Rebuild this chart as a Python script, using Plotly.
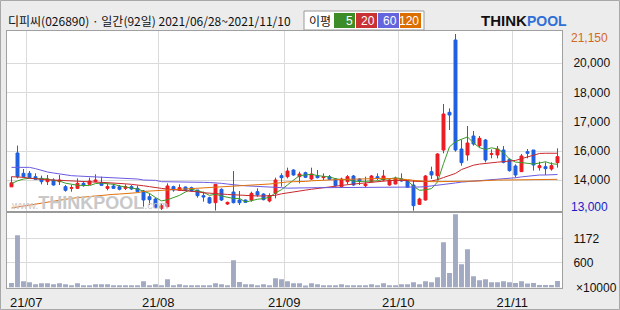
import pandas as pd
import plotly.graph_objects as go

# ---------------- data ----------------
holidays = ["2021-08-16", "2021-09-20", "2021-09-21", "2021-09-22", "2021-10-04", "2021-10-11"]
dates = [d for d in pd.bdate_range("2021-06-28", "2021-11-10") if d.strftime("%Y-%m-%d") not in holidays]

open_ = [14100, 15662, 14724, 14724, 14570, 14493, 14340, 14416, 14340, 14109,
         14032, 14032, 14263, 14217, 14340, 14294, 14032, 14140, 14109, 14032,
         14109, 14032, 13909, 13647, 13540, 13110, 13186, 14109, 13940, 14094,
         14063, 13955, 13694, 13602, 13371, 13986, 13310, 13863, 13494, 13494,
         13494, 13878, 13770, 13448, 13801, 14616, 14570, 14878, 14570, 14754,
         14463, 14616, 14524, 14570, 14463, 14109, 14340, 14601, 14463, 14155,
         14340, 14570, 14416, 14186, 14232, 14463, 14370, 14186, 13294, 13494,
         14801, 14616, 15800, 17537, 20873, 15846, 15570, 16446, 16000, 16262,
         15600, 15570, 15800, 15370, 15062, 14801, 15723, 15800, 14986, 15032,
         14924, 15216]
high = [14570, 16000, 14924, 14832, 14724, 14616, 14647, 14493, 14647, 14186,
        14186, 14493, 14370, 14524, 14678, 14570, 14263, 14247, 14186, 14217,
        14186, 14155, 13955, 13801, 13602, 13340, 14263, 14155, 14217, 14109,
        14109, 13955, 13878, 13648, 14217, 14032, 13417, 14831, 13909, 13510,
        13878, 14032, 13801, 13801, 14524, 14724, 14985, 14908, 14801, 14801,
        14985, 14878, 14724, 14647, 14493, 14524, 14647, 14647, 14493, 14570,
        14647, 14724, 14878, 14493, 14570, 14724, 14416, 14416, 13602, 14647,
        15032, 15650, 17922, 17722, 21150, 16262, 16907, 16676, 16446, 16308,
        15831, 15985, 15985, 15416, 15139, 15616, 15846, 15800, 15262, 15231,
        15231, 15877]
low = [14094, 14493, 14524, 14493, 14416, 14217, 14186, 14155, 14186, 13878,
       13878, 14002, 14109, 14186, 14309, 14170, 13940, 14002, 13940, 13955,
       13955, 13848, 13187, 13263, 13110, 13033, 13156, 13878, 13909, 13909,
       13878, 13602, 13417, 13325, 13010, 13448, 13264, 13340, 13263, 13371,
       13417, 13648, 13479, 13387, 13571, 14109, 14493, 14616, 14263, 14524,
       14416, 14493, 14416, 14416, 14109, 14078, 14217, 14155, 14186, 14078,
       14309, 14416, 14370, 14155, 14217, 14340, 14063, 13000, 13263, 13463,
       14463, 14416, 15646, 16722, 15723, 15078, 15308, 16000, 15908, 15231,
       15416, 15416, 15185, 14801, 14524, 14786, 15416, 14847, 14847, 14647,
       14847, 14986]
close = [14285, 14570, 14570, 14524, 14447, 14340, 14463, 14186, 14416, 13940,
         14063, 14263, 14155, 14370, 14416, 14170, 14109, 14032, 13986, 14109,
         14002, 13878, 13494, 13509, 13156, 13233, 14140, 13955, 14063, 13940,
         13909, 13694, 13632, 13356, 14217, 13494, 13387, 13371, 13371, 13387,
         13801, 13725, 13510, 13678, 14416, 14524, 14831, 14647, 14693, 14540,
         14693, 14524, 14570, 14447, 14155, 14463, 14570, 14186, 14370, 14232,
         14601, 14493, 14601, 14416, 14493, 14370, 14078, 13233, 13540, 14601,
         14647, 15616, 17460, 17414, 15800, 15216, 16123, 16077, 16338, 15339,
         15631, 15846, 15231, 14847, 14647, 15523, 15646, 15108, 15078, 14939,
         15078, 15493]
# volume in units of 10,000 shares
volume = [111, 1255, 151, 127, 79, 103, 103, 79, 103, 79,
          55, 103, 55, 55, 79, 79, 79, 55, 55, 55,
          55, 55, 151, 55, 79, 55, 199, 55, 79, 55,
          55, 55, 55, 55, 103, 79, 55, 655, 135, 79,
          79, 55, 79, 55, 223, 199, 151, 103, 103, 47,
          103, 79, 55, 55, 55, 79, 55, 55, 55, 55,
          79, 55, 103, 55, 55, 79, 79, 127, 79, 151,
          127, 247, 1087, 351, 1759, 559, 919, 271, 175, 199,
          127, 127, 151, 127, 111, 151, 95, 111, 63, 63,
          63, 159]
ma5 = [14250, 14380, 14460, 14500, 14478, 14490, 14469, 14392, 14370, 14269,
       14214, 14174, 14167, 14158, 14253, 14275, 14244, 14219, 14143, 14081,
       14048, 14001, 13894, 13798, 13608, 13454, 13506, 13599, 13709, 13866,
       14001, 13912, 13848, 13706, 13762, 13679, 13617, 13565, 13568, 13402,
       13463, 13531, 13559, 13620, 13826, 13971, 14192, 14419, 14622, 14647,
       14681, 14619, 14604, 14555, 14478, 14432, 14441, 14364, 14349, 14364,
       14392, 14376, 14459, 14469, 14521, 14475, 14392, 14118, 13943, 13964,
       14020, 14327, 15173, 15948, 16187, 16301, 16403, 16126, 15911, 15819,
       15902, 15846, 15677, 15379, 15240, 15219, 15179, 15154, 15200, 15259,
       15170, 15139]
ma20 = [14570, 14570, 14540, 14500, 14470, 14440, 14420, 14416, 14400, 14370,
        14350, 14340, 14340, 14330, 14320, 14310, 14300, 14280, 14263, 14240,
        14217, 14200, 14150, 14110, 14060, 14030, 14000, 13980, 13960, 13940,
        13910, 13870, 13830, 13800, 13790, 13770, 13750, 13730, 13720, 13700,
        13690, 13680, 13680, 13690, 13710, 13780, 13830, 13880, 13920, 13950,
        13990, 14030, 14060, 14090, 14120, 14160, 14200, 14230, 14260, 14290,
        14320, 14340, 14370, 14390, 14400, 14400, 14390, 14360, 14340, 14340,
        14370, 14430, 14530, 14620, 14720, 14900, 15000, 15100, 15150, 15190,
        15220, 15240, 15262, 15290, 15320, 15400, 15490, 15580, 15640, 15650,
        15650, 15650]
ma60 = [15000, 15000, 15031, 15000, 14939, 14847, 14785, 14739, 14693, 14647,
        14616, 14601, 14590, 14580, 14570, 14555, 14540, 14540, 14525, 14493,
        14478, 14463, 14416, 14416, 14400, 14340, 14340, 14340, 14340, 14330,
        14320, 14309, 14309, 14300, 14290, 14263, 14230, 14186, 14170, 14150,
        14140, 14130, 14110, 14094, 14080, 14063, 14040, 14050, 14063, 14063,
        14063, 14063, 14063, 14063, 14063, 14063, 14063, 14063, 14063, 14070,
        14070, 14070, 14075, 14078, 14078, 14078, 14078, 14078, 14094, 14109,
        14140, 14170, 14186, 14232, 14280, 14320, 14340, 14350, 14370, 14390,
        14416, 14430, 14460, 14494, 14520, 14560, 14600, 14630, 14647, 14647,
        14660, 14670]
ma120 = [13125, 13171, 13217, 13264, 13310, 13356, 13417, 13463, 13510, 13540,
         13571, 13602, 13632, 13663, 13694, 13725, 13740, 13755, 13770, 13786,
         13817, 13832, 13890, 13905, 13920, 13935, 13950, 13965, 13980, 13995,
         14010, 14030, 14045, 14060, 14075, 14095, 14110, 14130, 14150, 14170,
         14186, 14200, 14217, 14232, 14263, 14310, 14330, 14340, 14340, 14350,
         14380, 14400, 14416, 14420, 14430, 14440, 14450, 14460, 14470, 14480,
         14493, 14493, 14493, 14480, 14470, 14463, 14440, 14400, 14370, 14350,
         14340, 14340, 14340, 14340, 14345, 14350, 14355, 14360, 14370, 14390,
         14416, 14416, 14416, 14420, 14430, 14440, 14447, 14447, 14447, 14447,
         14447, 14447]

price_grid = [14416, 15754, 17105, 18461, 19799]
price_grid_labels = ["14,000", "16,000", "17,000", "18,000", "20,000"]
vol_grid = [600, 1172]
vol_grid_labels = ["600", "1172"]
ma_periods = ["5", "20", "60", "120"]

title_text = "디피씨(026890) · 일간(92일) 2021/06/28~2021/11/10"

# ---------------- styling ----------------
W, H = 620, 310
RED = "#ec1c24"
BLUE = "#1f5fe0"
MA_COLORS = ["#3a9a28", "#c8282d", "#6a5ae0", "#e0700a"]
LEG_COLORS = ["#3c8c28", "#c83232", "#6464dc", "#dc6e00"]
VOL_COLOR = "#a2aac3"
GRID = "#dadada"
FRAME = "#a0a0a0"
FONT = "Liberation Sans, Arial, sans-serif"
KFONT = "Noto Sans CJK KR, sans-serif"


def px(x):
    return x / W


def py(y):
    return 1 - y / H


n = len(close)
idx = list(range(n))
month_idx = [i for i in range(1, n) if dates[i].month != dates[i - 1].month]
month_pos = [i - 0.55 for i in month_idx]
month_labels = [dates[i].strftime("%y/%m") for i in month_idx]

XDOM = [px(7), px(562)]
XRANGE = [-0.75, n - 0.25]
PDOM = [py(212), py(31)]
PRANGE = [12941, 21288]
VDOM = [py(287.5), py(212)]
VRANGE = [0, 1812]

fig = go.Figure()

fig.add_trace(go.Candlestick(
    x=idx, open=open_, high=high, low=low, close=close,
    increasing=dict(line=dict(color=RED, width=1), fillcolor=RED),
    decreasing=dict(line=dict(color=BLUE, width=1), fillcolor=BLUE),
    whiskerwidth=0, showlegend=False, xaxis="x", yaxis="y", hoverinfo="skip"))

for vals, col, name in zip([ma5, ma20, ma60, ma120], MA_COLORS, ma_periods):
    fig.add_trace(go.Scatter(x=idx, y=vals, mode="lines", name=name,
                             line=dict(color=col, width=1), showlegend=False,
                             xaxis="x", yaxis="y", hoverinfo="skip"))

fig.add_trace(go.Bar(x=idx, y=volume, marker=dict(color=VOL_COLOR, line=dict(width=0)),
                     width=0.82, showlegend=False, xaxis="x2", yaxis="y2", hoverinfo="skip"))

axis_common = dict(showgrid=True, gridcolor=GRID, gridwidth=1, zeroline=False,
                   showline=True, linecolor=FRAME, linewidth=1, mirror=True)

fig.update_layout(
    width=W, height=H, margin=dict(l=0, r=0, t=0, b=0),
    paper_bgcolor="#ececec", plot_bgcolor="#ffffff",
    font=dict(family=FONT, size=12, color="#111111"),
    showlegend=False, boxgap=0.3,
    xaxis=dict(domain=XDOM, range=XRANGE, anchor="y", tickvals=month_pos,
               showticklabels=False, ticks="", rangeslider=dict(visible=False), **axis_common),
    yaxis=dict(domain=PDOM, range=PRANGE, anchor="x", side="right",
               tickvals=price_grid, ticktext=price_grid_labels, ticks="",
               ticklabelstandoff=8, tickfont=dict(size=12, color="#111111"), **axis_common),
    xaxis2=dict(domain=XDOM, range=XRANGE, anchor="y2", tickvals=month_pos,
                ticktext=month_labels, ticks="", ticklabelstandoff=3,
                tickfont=dict(size=13, color="#111111"), **axis_common),
    yaxis2=dict(domain=VDOM, range=VRANGE, anchor="x2", side="right",
                tickvals=vol_grid, ticktext=vol_grid_labels, ticks="",
                ticklabelstandoff=8, tickfont=dict(size=12, color="#111111"), **axis_common),
)

shapes = []
annotations = []

# outer border
shapes.append(dict(type="rect", xref="paper", yref="paper", x0=px(0.5), x1=px(619.5),
                   y0=py(309.5), y1=py(0.5), line=dict(color="#a8a8a8", width=1)))
# darker separator between price and volume panels
shapes.append(dict(type="line", xref="paper", yref="paper", x0=px(7), x1=px(562),
                   y0=py(212), y1=py(212), line=dict(color="#999999", width=2)))

# header
annotations.append(dict(xref="paper", yref="paper", x=px(6), y=py(20.5), xanchor="left",
                        yanchor="middle", showarrow=False, text=title_text,
                        font=dict(family=KFONT, size=12, color="#111111")))

# moving-average legend box
shapes.append(dict(type="rect", xref="paper", yref="paper", x0=px(304), x1=px(424),
                   y0=py(30), y1=py(11), fillcolor="#ffffff", line=dict(color="#9a9a9a", width=1)))
annotations.append(dict(xref="paper", yref="paper", x=px(307), y=py(20.5), xanchor="left",
                        yanchor="middle", showarrow=False, text="이평",
                        font=dict(family=KFONT, size=12, color="#111111")))
leg_x = [(334, 355), (356, 377), (378, 399), (400, 421)]
for (x0, x1), col, lab in zip(leg_x, LEG_COLORS, ma_periods):
    shapes.append(dict(type="rect", xref="paper", yref="paper", x0=px(x0), x1=px(x1),
                       y0=py(28), y1=py(13), fillcolor=col, line=dict(width=0)))
    annotations.append(dict(xref="paper", yref="paper", x=px(x1), y=py(20.5), xanchor="right",
                            yanchor="middle", showarrow=False, text=lab,
                            font=dict(family=FONT, size=12, color="#ffffff")))

# logo
annotations.append(dict(xref="paper", yref="paper", x=px(528), y=py(20.5), xanchor="right",
                        yanchor="middle", showarrow=False, text="<b>THINK</b>", borderpad=0,
                        font=dict(family=FONT, size=15, color="#111111")))
annotations.append(dict(xref="paper", yref="paper", x=px(526), y=py(20.5), xanchor="left",
                        yanchor="middle", showarrow=False, text="<b>POOL</b>", borderpad=0,
                        font=dict(family=FONT, size=14, color="#2f6fd6")))

# watermark
annotations.append(dict(xref="paper", yref="paper", x=px(89), y=py(203), xanchor="center",
                        yanchor="middle", showarrow=False,
                        text="<span style='font-size:11px'>www.</span><b>THINKPOOL</b><span style='font-size:11px'>.com</span>",
                        font=dict(family=FONT, size=18, color="#c8c8c8")))

# max / min markers
pmax, pmin = max(high), min(low)
annotations.append(dict(xref="paper", yref="y", x=px(569), y=pmax, yshift=-4, xanchor="left",
                        yanchor="middle", showarrow=False, text=f"{pmax:,}",
                        font=dict(family=FONT, size=12, color="#d2691e")))
annotations.append(dict(xref="paper", yref="y", x=px(569), y=pmin, yshift=4, xanchor="left",
                        yanchor="middle", showarrow=False, text=f"{pmin:,}",
                        font=dict(family=FONT, size=12, color="#1a1ac8")))

# volume unit
annotations.append(dict(xref="paper", yref="paper", x=px(574), y=py(288), xanchor="left",
                        yanchor="middle", showarrow=False, text="×10000",
                        font=dict(family=FONT, size=12, color="#111111")))

fig.update_layout(shapes=shapes, annotations=annotations)
fig.write_html("out.html")
